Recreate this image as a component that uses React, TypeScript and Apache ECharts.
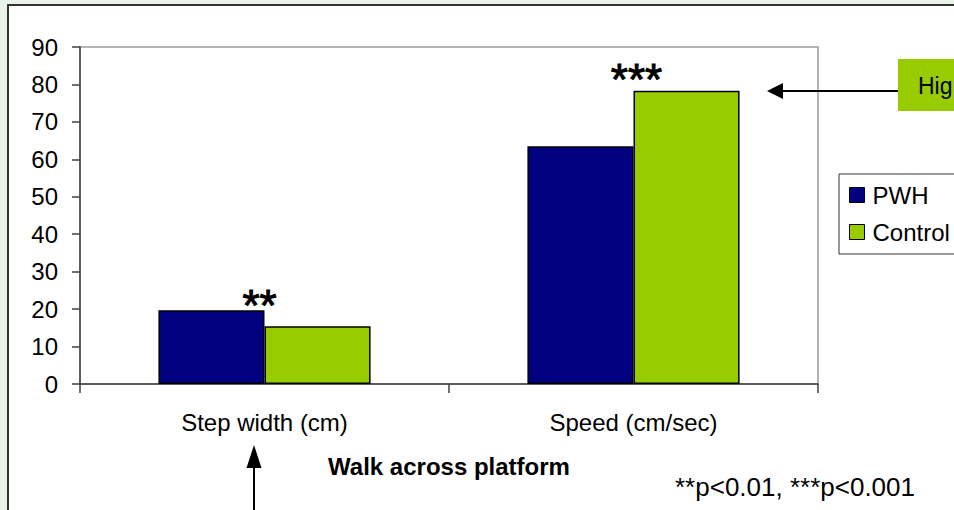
import React, { useEffect, useRef } from "react";
import * as echarts from "echarts";

// Gait measures for the two groups
const categories = ["Step width (cm)", "Speed (cm/sec)"];
const pwhValues = [19.7, 63.5];
const controlValues = [15.4, 78.3];
const sigLabels = ["**", "***"];
const yTicks = { min: 0, max: 90, interval: 10 };

const NAVY = "#000080";
const LIME = "#99CC00";
const FONT = "'Liberation Sans', Arial, sans-serif";

export default function App() {
  const ref = useRef<HTMLDivElement>(null);

  useEffect(() => {
    if (!ref.current) return;
    const chart = echarts.init(ref.current, null, { renderer: "svg" });

    const sigData = categories.map((c, i) => ({
      value: [c, Math.max(pwhValues[i], controlValues[i])],
      label: {
        distance: i === 0 ? -17 : -11,
        offset: i === 0 ? [-5, 0] : [3, 0],
      },
    }));

    chart.setOption({
      animation: false,
      backgroundColor: "#EAF3EA",
      textStyle: { fontFamily: FONT },
      graphic: [
        {
          type: "rect",
          z: -10,
          shape: { x: 8, y: 5, width: 960, height: 520 },
          style: { fill: "#ffffff", stroke: "#333333", lineWidth: 2 },
          silent: true,
        },
        // callout box on the right
        {
          type: "rect",
          shape: { x: 898, y: 59, width: 80, height: 52 },
          style: { fill: LIME },
        },
        {
          type: "text",
          x: 918,
          y: 86,
          style: {
            text: "Hig",
            fill: "#000",
            font: `23px ${FONT}`,
            verticalAlign: "middle",
          },
        },
        {
          type: "line",
          shape: { x1: 898, y1: 91, x2: 778, y2: 91 },
          style: { stroke: "#000", lineWidth: 2 },
        },
        {
          type: "polygon",
          shape: { points: [[767, 91], [783, 83], [783, 99]] },
          style: { fill: "#000" },
        },
        // arrow pointing up at the step-width label
        {
          type: "line",
          shape: { x1: 254, y1: 512, x2: 254, y2: 462 },
          style: { stroke: "#000", lineWidth: 2 },
        },
        {
          type: "polygon",
          shape: { points: [[254, 445], [246.5, 468], [261.5, 468]] },
          style: { fill: "#000" },
        },
        {
          type: "text",
          x: 449,
          y: 466,
          style: {
            text: "Walk across platform",
            fill: "#000",
            font: `bold 24px ${FONT}`,
            align: "center",
            verticalAlign: "middle",
          },
        },
        {
          type: "text",
          x: 675,
          y: 487,
          style: {
            text: "**p<0.01, ***p<0.001",
            fill: "#000",
            font: `26px ${FONT}`,
            verticalAlign: "middle",
          },
        },
      ],
      grid: {
        left: 80,
        top: 47,
        right: 136,
        bottom: 126,
        show: true,
        borderColor: "#9a9a9a",
        borderWidth: 1.5,
      },
      legend: {
        orient: "vertical",
        left: 839,
        top: 174,
        data: ["PWH", "Control"],
        icon: "rect",
        itemWidth: 15,
        itemHeight: 15,
        itemGap: 13,
        padding: [9, 60, 10, 10],
        borderColor: "#333",
        borderWidth: 1,
        backgroundColor: "#fff",
        textStyle: {
          fontSize: 24,
          color: "#000",
          fontFamily: FONT,
          padding: [0, 0, 0, 3],
        },
        itemStyle: { borderColor: "#000", borderWidth: 1 },
      },
      xAxis: {
        type: "category",
        data: categories,
        axisLine: { lineStyle: { color: "#404040", width: 1.5 } },
        axisTick: { show: true, alignWithLabel: false, length: 9, lineStyle: { color: "#404040", width: 1.5 } },
        axisLabel: { fontSize: 24, color: "#000", margin: 26, fontFamily: FONT },
        splitLine: { show: false },
      },
      yAxis: {
        type: "value",
        min: yTicks.min,
        max: yTicks.max,
        interval: yTicks.interval,
        axisLine: { show: true, lineStyle: { color: "#404040", width: 1.5 } },
        axisTick: { show: true, length: 8, lineStyle: { color: "#404040", width: 1.5 } },
        axisLabel: { fontSize: 24, color: "#000", margin: 22, fontFamily: FONT },
        splitLine: { show: false },
      },
      series: [
        {
          name: "PWH",
          type: "bar",
          data: pwhValues,
          barGap: "0%",
          barCategoryGap: "42.5%",
          itemStyle: { color: NAVY, borderColor: "#000", borderWidth: 1.5 },
        },
        {
          name: "Control",
          type: "bar",
          data: controlValues,
          barGap: "0%",
          barCategoryGap: "42.5%",
          itemStyle: { color: LIME, borderColor: "#000", borderWidth: 1.5 },
        },
        {
          name: "significance",
          type: "scatter",
          data: sigData,
          symbolSize: 0,
          silent: true,
          itemStyle: { color: "#000", opacity: 1 },
          label: {
            show: true,
            position: "top",
            formatter: (p: any) => sigLabels[p.dataIndex],
            fontSize: 44,
            fontWeight: "normal",
            color: "#000000",
            opacity: 1,
            textBorderColor: "#000000",
            textBorderWidth: 1,
            fontFamily: FONT,
          },
        },
      ],
    });

    return () => chart.dispose();
  }, []);

  return (
    <div style={{ position: "absolute", left: 0, top: 0 }}>
      <div ref={ref} style={{ width: 954, height: 510 }} />
    </div>
  );
}
